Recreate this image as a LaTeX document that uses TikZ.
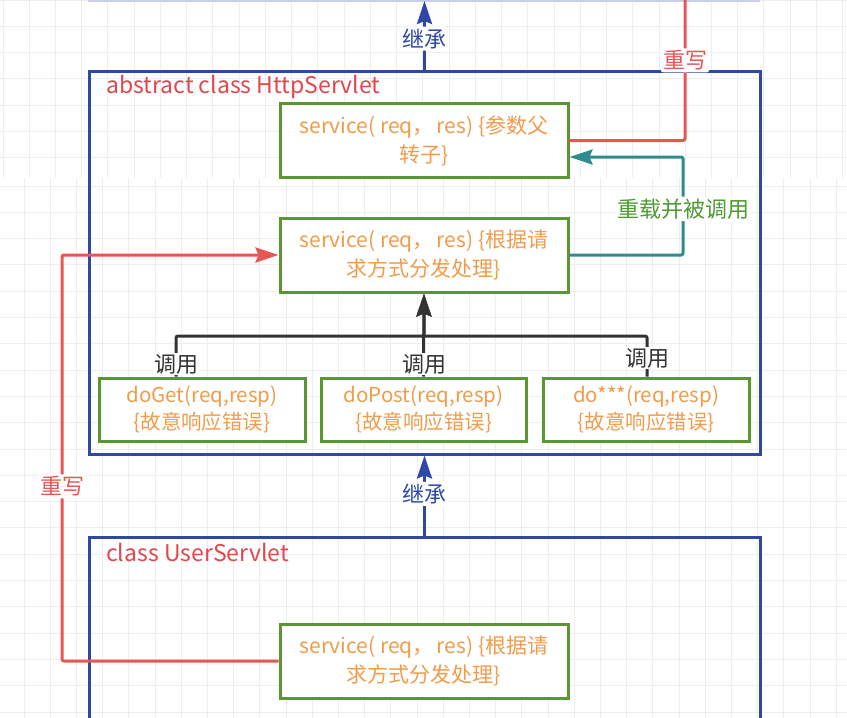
\documentclass[tikz,border=0pt]{standalone}
\usepackage{fontspec}
\setmainfont{Noto Sans CJK SC}
\usetikzlibrary{arrows.meta}
\definecolor{cblue}{HTML}{2E48A6}
\definecolor{cred}{HTML}{E85555}
\definecolor{ctitle}{HTML}{E2474C}
\definecolor{cteal}{HTML}{2E8B8E}
\definecolor{cgreen}{HTML}{5A9632}
\definecolor{clabgreen}{HTML}{4E9A32}
\definecolor{corange}{HTML}{F19C4B}
\definecolor{cblack}{HTML}{333333}
\definecolor{cgrid}{HTML}{EEEEEE}
\definecolor{cfaint}{HTML}{C8CDE8}
\begin{document}
\begin{tikzpicture}[x=1pt,y=-1pt,
  method/.style={draw=cgreen, line width=3pt, fill=white, text=corange,
    font=\fontsize{21}{29}\selectfont, align=center, inner sep=0pt,
    minimum width=288pt, minimum height=74pt},
  domethod/.style={method, minimum width=206pt, minimum height=63pt,
    font=\fontsize{20.5}{27}\selectfont},
  clsbox/.style={draw=cblue, line width=3pt, inner sep=0pt},
  clstitle/.style={text=ctitle, font=\fontsize{23}{23}\selectfont, anchor=west, inner sep=0pt},
  lbl/.style={fill=white, font=\fontsize{22}{22}\selectfont, inner sep=2pt},
  conn/.style={line width=3pt, rounded corners=2pt},
  tip/.style={-{Stealth[length=23pt,width=15pt,inset=3pt]}},
  gridline/.style={draw=cgrid, line width=1pt}
]
\clip (0,0) rectangle (847,718);
\fill[white] (0,0) rectangle (847,718);
% background grid, upper part
\foreach \i in {0,...,32} {\draw[gridline] (3+26.24*\i,0) -- (3+26.24*\i,178);}
\foreach \j in {0,...,6} {\draw[gridline] (0,26.3*\j) -- (847,26.3*\j);}
% background grid, lower part
\foreach \i in {0,...,32} {\draw[gridline] (-2.2+26.2*\i,178) -- (-2.2+26.2*\i,718);}
\foreach \j in {0,...,20} {\draw[gridline] (0,186+26.3*\j) -- (847,186+26.3*\j);}
% faint edge of the parent class box
\draw[cfaint, line width=3pt] (88,0) -- (760,0);

% class boxes
\node[clsbox, minimum width=671pt, minimum height=383pt] (http) at (424.5,262.5) {};
\node[clsbox, minimum width=671pt, minimum height=260pt] (user) at (424.5,667) {};
\node[clstitle] (httptitle) at (106,87) {abstract class HttpServlet};
\node[clstitle] (usertitle) at (106,552) {class UserServlet};

% methods
\node[method] (svc1) at (424,140.5) {\raisebox{-2pt}{\parbox{280pt}{\centering service( req，\hspace{3pt}res) \{参数父\\转子\}}}};
\node[method] (svc2) at (424,255) {\raisebox{-2pt}{\parbox{280pt}{\centering service( req，\hspace{3pt}res) \{根据请\\求方式分发处理\}}}};
\node[method] (svc3) at (424,661) {\raisebox{-2pt}{\parbox{280pt}{\centering service( req，\hspace{3pt}res) \{根据请\\求方式分发处理\}}}};
\node[domethod] (doget) at (202,409.5) {\raisebox{-2pt}{\parbox{200pt}{\centering doGet(req,resp)\\\{故意响应错误\}}}};
\node[domethod, minimum width=205pt] (dopost) at (423.5,409.5) {\raisebox{-2pt}{\parbox{200pt}{\centering doPost(req,resp)\\\{故意响应错误\}}}};
\node[domethod] (doany) at (646,409.5) {\raisebox{-2pt}{\parbox{200pt}{\centering do***(req,resp)\\\{故意响应错误\}}}};

% inheritance arrows
\coordinate (parent) at (424.5,1);
\draw[conn, cblue, tip] (http.north) -- node[lbl, text=cblue, pos=0.45] (inh1) {继承} (parent);
\draw[conn, cblue, tip] (user.north) -- node[lbl, text=cblue, pos=0.52] (inh2) {继承} (http.south);

% override of the parent's service
\coordinate (parentsvc) at (685,0);
\draw[conn, cred] (svc1.east) -- (685,140.5) -- node[lbl, text=cred, pos=0.57] (ovr1) {重写} (parentsvc);

% overload and called
\draw[conn, cteal, tip] (svc2.east) -- (683,255) -- node[lbl, text=clabgreen, pos=0.47] (ovl) {重载并被调用} (683,157) -- ([yshift=-16.5pt]svc1.east);

% calls from doXxx to service
\draw[conn, cblack, tip] ([xshift=-26pt]doget.north) -- (176,336) -- (424,336) -- (svc2.south);
\draw[conn, cblack, tip] (dopost.north) -- (svc2.south);
\draw[conn, cblack] ([xshift=1pt]doany.north) -- (647,336) -- (424,336);
\node[lbl, text=cblack, inner sep=1pt] (call1) at (176,364) {调用};
\node[lbl, text=cblack, inner sep=1pt] (call2) at (424,364) {调用};
\node[lbl, text=cblack, inner sep=1pt] (call3) at (647,358) {调用};

% override in UserServlet
\draw[conn, cred, tip] (svc3.west) -- (62,661) -- node[lbl, text=cred, pos=0.43] (ovr2) {重写} (62,255) -- (svc2.west);
\end{tikzpicture}
\end{document}
